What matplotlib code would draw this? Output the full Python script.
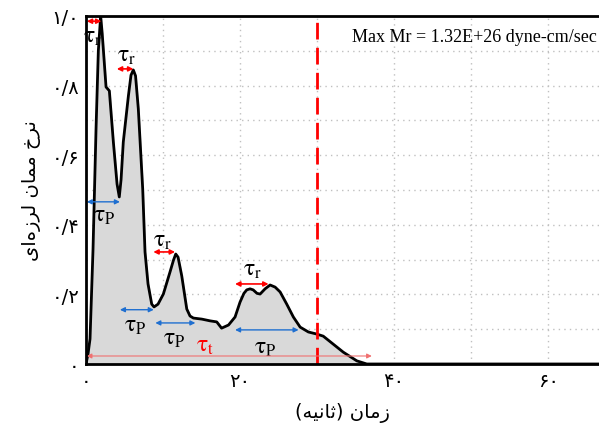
import numpy as np
import matplotlib
matplotlib.use("Agg")
import matplotlib.pyplot as plt

# moment rate curve (time in s, normalised rate)
t = [0, 0.26, 0.52, 0.91, 1.3, 1.6, 1.9, 2.1, 2.34, 2.6, 3.03, 3.55, 4.03, 4.32, 4.55, 4.84,
     5.5, 5.84, 6.14, 6.43, 6.79, 7.36, 7.66, 8.05, 8.53, 8.83, 9.35, 10.04, 10.9,
     11.35, 11.65, 11.95, 12.43, 13.08, 13.5, 13.94, 15.03, 16.1, 16.97, 17.6, 18.5, 19.35, 20.0,
     20.5, 20.87, 21.3, 21.7, 22.2, 22.6, 23.25, 23.9, 24.55, 25.2, 26.06, 26.92, 27.8, 28.87, 29.96,
     30.8, 32.1, 33.4, 35.16, 36.45, 66.7]
rate = [0, 0.029, 0.072, 0.33, 0.675, 0.9, 1.0, 0.95, 0.876, 0.796, 0.785, 0.638, 0.517, 0.48,
        0.53, 0.638, 0.77, 0.83, 0.845, 0.828, 0.733, 0.503, 0.322, 0.23, 0.172,
        0.164, 0.172, 0.201, 0.264, 0.298, 0.316, 0.307, 0.253, 0.158, 0.138, 0.132, 0.129, 0.124,
        0.121, 0.103, 0.112, 0.135, 0.178, 0.203, 0.213, 0.216, 0.213, 0.203, 0.201, 0.216, 0.227, 0.221,
        0.207, 0.172, 0.135, 0.106, 0.092, 0.086, 0.08, 0.057, 0.034, 0.009, 0, 0]

t_max = 30.0

# tau arrows: (t_start, t_end, level), label position (t, v)
rise_arrows = [(0.1, 2.0, 0.985), (4.0, 6.15, 0.848), (8.74, 11.56, 0.322), (19.35, 23.7, 0.23)]
rise_labels = [(0.8, 0.945), (5.3, 0.89), (10.0, 0.36), (21.6, 0.275)]
pulse_arrows = [(0.1, 4.4, 0.466), (4.4, 8.8, 0.156), (9.0, 14.2, 0.118), (19.35, 27.6, 0.098)]
pulse_labels = [(2.4, 0.43), (6.4, 0.115), (11.4, 0.077), (23.3, 0.052)]
total_arrow = (0.1, 37.1, 0.023)
total_label = (15.4, 0.058)

xticks = [0, 20, 40, 60]
xtick_labels = ["\u06f0", "\u06f2\u06f0", "\u06f4\u06f0", "\u06f6\u06f0"]
yticks = [0, 0.2, 0.4, 0.6, 0.8, 1.0]
ytick_labels = ["\u06f0", "\u06f0/\u06f2", "\u06f0/\u06f4", "\u06f0/\u06f6", "\u06f0/\u06f8", "\u06f1/\u06f0"]

# Persian labels, already shaped and in visual order
xlabel = "(\ufeea\ufbff\ufee7\ufe8e\ufe9b) \ufee5\ufe8e\ufee3\ufeaf"
ylabel = ("\ufbfc\ufe8d\ufee9\ufeaf\ufeae\ufedf \ufee5\ufe8e\ufee4\ufee3 "
          "\ufea5\ufeae\ufee7")

plt.rcParams["mathtext.fontset"] = "stix"

fig = plt.figure(figsize=(5.99, 4.27), dpi=100)
ax = fig.add_axes([0.1436, 0.1452, 0.8564, 0.815])

ax.fill_between(t, rate, color="#d9d9d9", zorder=1)
ax.plot(t, rate, color="black", lw=2, zorder=3)
ax.axvline(t_max, color="red", lw=2, dashes=(6, 3), zorder=4)

ax.text(0.995, 0.965, "Max Mr = 1.32E+26 dyne-cm/sec", transform=ax.transAxes,
        ha="right", va="top", family="Liberation Serif", fontsize=13, zorder=5)

blue = "#1f6fd0"
for (a, b, v), (lx, ly) in zip(rise_arrows, rise_labels):
    ax.annotate("", xy=(b, v), xytext=(a, v),
                arrowprops=dict(arrowstyle="<|-|>", color="red", lw=1.2,
                                mutation_scale=7, shrinkA=0, shrinkB=0), zorder=5)
    ax.text(lx, ly, r"$\mathrm{\tau}_{\mathrm{r}}$", fontsize=17, ha="center", va="center", zorder=5)

for (a, b, v), (lx, ly) in zip(pulse_arrows, pulse_labels):
    ax.annotate("", xy=(b, v), xytext=(a, v),
                arrowprops=dict(arrowstyle="<|-|>", color=blue, lw=1.0,
                                mutation_scale=7, shrinkA=0, shrinkB=0), zorder=5)
    ax.text(lx, ly, r"$\mathrm{\tau}_{\mathrm{P}}$", fontsize=17, ha="center", va="center", zorder=5)

a, b, v = total_arrow
ax.annotate("", xy=(b, v), xytext=(a, v),
            arrowprops=dict(arrowstyle="<|-|>", color="#f07070", lw=0.8,
                            mutation_scale=7, shrinkA=0, shrinkB=0), zorder=5)
ax.text(total_label[0], total_label[1], r"$\mathrm{\tau}_{\mathrm{t}}$", fontsize=17, color="red",
        ha="center", va="center", zorder=5)

ax.set_xlim(0, 66.6)
ax.set_ylim(0, 1.0)
ax.set_xticks(xticks)
ax.set_xticklabels(xtick_labels, family="DejaVu Sans", fontsize=14)
ax.set_yticks(yticks)
ax.set_yticklabels(ytick_labels, family="DejaVu Sans", fontsize=14)
ax.set_xticks(np.arange(0, 66, 10), minor=True)
ax.set_yticks(np.arange(0, 1.01, 0.1), minor=True)
ax.tick_params(which="both", length=0)
ax.tick_params(axis="x", pad=5)
ax.tick_params(axis="y", pad=5)
ax.grid(which="both", color="#c0c0c0", ls=(0, (1, 3)), lw=1)
ax.set_axisbelow(True)

for side in ["left", "top", "bottom"]:
    ax.spines[side].set_linewidth(2)
    ax.spines[side].set_zorder(6)
ax.spines["right"].set_visible(False)

ax.set_xlabel(xlabel, family="DejaVu Sans", fontsize=14)
ax.set_ylabel(ylabel, family="DejaVu Sans", fontsize=14)
ax.xaxis.set_label_coords(0.5, -0.11)
ax.yaxis.set_label_coords(-0.088, 0.5)

fig.savefig("out.png", dpi=100)
